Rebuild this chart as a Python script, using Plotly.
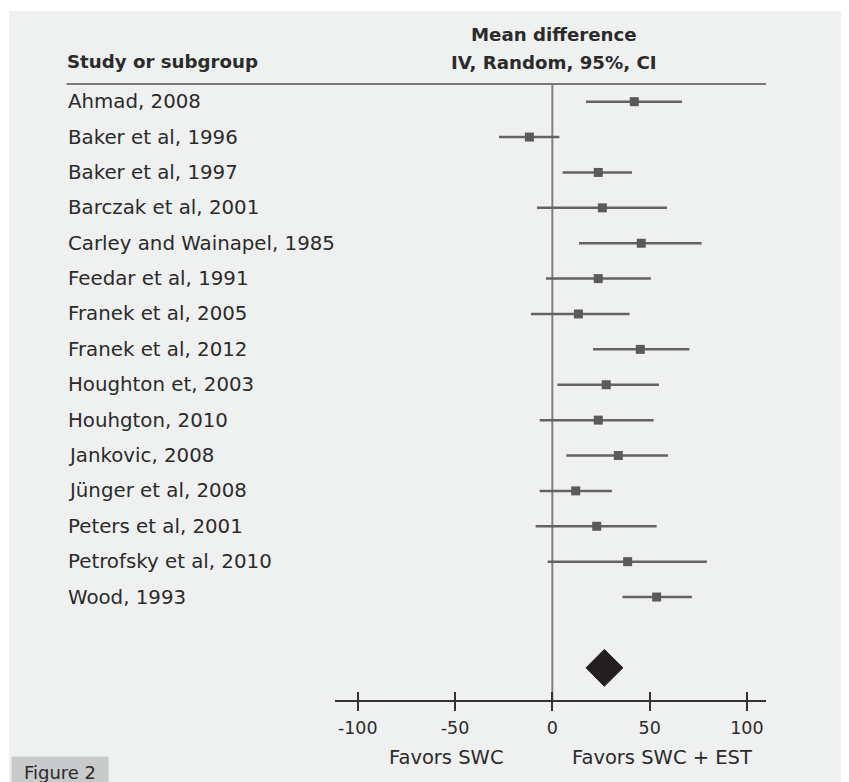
import plotly.graph_objects as go

studies = ["Ahmad, 2008", "Baker et al, 1996", "Baker et al, 1997", "Barczak et al, 2001",
           "Carley and Wainapel, 1985", "Feedar et al, 1991", "Franek et al, 2005",
           "Franek et al, 2012", "Houghton et, 2003", "Houhgton, 2010", "Jankovic, 2008",
           "Jünger et al, 2008", "Peters et al, 2001", "Petrofsky et al, 2010", "Wood, 1993"]
mean_diff = [42.1, -11.8, 23.6, 25.7, 45.7, 23.6, 13.4, 45.2, 27.7, 23.6, 33.9, 12.0, 22.8, 38.7, 53.6]
ci_lower = [17.3, -27.4, 5.3, -7.9, 13.7, -3.3, -11.0, 20.9, 2.6, -6.5, 7.2, -6.5, -8.6, -2.4, 36.0]
ci_upper = [66.6, 3.6, 40.9, 58.9, 76.7, 50.6, 39.7, 70.4, 54.8, 52.0, 59.4, 30.6, 53.6, 79.4, 71.7]
pooled = {"mean": 26.7, "lower": 17.3, "upper": 36.3}
tick_vals = [-100, -50, 0, 50, 100]
tick_text = ["-100", "-50", "0", "50", "100"]

OFF = 8  # page body margin
W, H = 849 - OFF, 782 - OFF
L, R, T, B = 335 - OFF, 766 - OFF, 84 - OFF, 700 - OFF
PW, PH = R - L, B - T
FONT = "DejaVu Sans"
TXT = "#2b2b2b"

def px_x(px):
    return (px - OFF - L) / PW

def px_y(py):
    return (B - (py - OFF)) / PH

rows = list(range(len(studies)))
pooled_row = len(studies) + 1

fig = go.Figure()
fig.add_trace(go.Scatter(
    x=mean_diff, y=rows, mode="markers",
    marker=dict(symbol="square", size=9, color="#5a5a5a"),
    error_x=dict(type="data", symmetric=False,
                 array=[u - m for u, m in zip(ci_upper, mean_diff)],
                 arrayminus=[m - l for m, l in zip(mean_diff, ci_lower)],
                 thickness=2.5, width=0, color="#636363"),
    showlegend=False, hoverinfo="skip", cliponaxis=False))

dh = 0.52
fig.add_trace(go.Scatter(
    x=[pooled["lower"], pooled["mean"], pooled["upper"], pooled["mean"], pooled["lower"]],
    y=[pooled_row, pooled_row - dh, pooled_row, pooled_row + dh, pooled_row],
    mode="lines", fill="toself", fillcolor="#231f20",
    line=dict(color="#231f20", width=1), showlegend=False, hoverinfo="skip"))

fig.add_trace(go.Scatter(x=[0], y=[0], xaxis="x2", mode="markers",
                         marker=dict(opacity=0), showlegend=False, hoverinfo="skip"))

shapes = [
    dict(type="rect", xref="paper", yref="paper", x0=px_x(9), x1=px_x(843),
         y0=px_y(790), y1=px_y(11), fillcolor="#eff0f0", line=dict(width=0), layer="below"),
    dict(type="line", xref="paper", yref="paper", x0=px_x(66.5), x1=1,
         y0=1, y1=1, line=dict(color="#7a7a7a", width=2)),
    dict(type="line", xref="x", yref="paper", x0=0, x1=0, y0=0, y1=1,
         line=dict(color="#808080", width=2), layer="below"),
]

annotations = []
for i, s in enumerate(studies):
    annotations.append(dict(xref="paper", yref="y", x=px_x(66), y=i, text=s, showarrow=False,
                            xanchor="left", yanchor="middle",
                            font=dict(family=FONT, size=19.8, color=TXT)))
annotations += [
    dict(xref="paper", yref="paper", x=px_x(65), y=px_y(61.5), text="<b>Study or subgroup</b>",
         showarrow=False, xanchor="left", yanchor="middle",
         font=dict(family=FONT, size=18.2, color=TXT)),
    dict(xref="x", yref="paper", x=0.6, y=px_y(35), text="<b>Mean difference</b>",
         showarrow=False, xanchor="center", yanchor="middle",
         font=dict(family=FONT, size=18.2, color=TXT)),
    dict(xref="x", yref="paper", x=0.6, y=px_y(63), text="<b>IV, Random, 95%, CI</b>",
         showarrow=False, xanchor="center", yanchor="middle",
         font=dict(family=FONT, size=18.2, color=TXT)),
    dict(xref="x", yref="paper", x=-54.6, y=px_y(757), text="Favors SWC",
         showarrow=False, xanchor="center", yanchor="middle",
         font=dict(family=FONT, size=19.5, color=TXT)),
    dict(xref="x", yref="paper", x=56.3, y=px_y(757), text="Favors SWC + EST",
         showarrow=False, xanchor="center", yanchor="middle",
         font=dict(family=FONT, size=19.5, color=TXT)),
    dict(xref="paper", yref="paper", x=px_x(11), y=px_y(756), text="Figure 2",
         showarrow=False, xanchor="left", yanchor="top", bgcolor="#c9cacb",
         width=86, align="center", borderpad=5,
         font=dict(family=FONT, size=18, color=TXT)),
]

xr = [-111.7, 109.8]
fig.update_layout(
    width=W, height=H,
    margin=dict(l=L, r=W - R, t=T, b=H - B, pad=0),
    paper_bgcolor="white", plot_bgcolor="rgba(0,0,0,0)",
    shapes=shapes, annotations=annotations,
    xaxis=dict(range=xr, showgrid=False, zeroline=False, showline=True,
               linecolor="#333333", linewidth=1.5,
               tickmode="array", tickvals=tick_vals, ticktext=tick_text,
               ticks="outside", ticklen=9, tickwidth=1.5, tickcolor="#333333",
               ticklabelstandoff=2,
               tickfont=dict(family=FONT, size=17.5, color=TXT), fixedrange=True),
    xaxis2=dict(range=xr, overlaying="x", side="bottom", anchor="y",
                showgrid=False, zeroline=False, showline=False,
                tickmode="array", tickvals=tick_vals, showticklabels=False,
                ticks="inside", ticklen=8, tickwidth=1.5, tickcolor="#333333"),
    yaxis=dict(range=[16.91, -0.5], visible=False, fixedrange=True),
)

fig.write_html("out.html")
